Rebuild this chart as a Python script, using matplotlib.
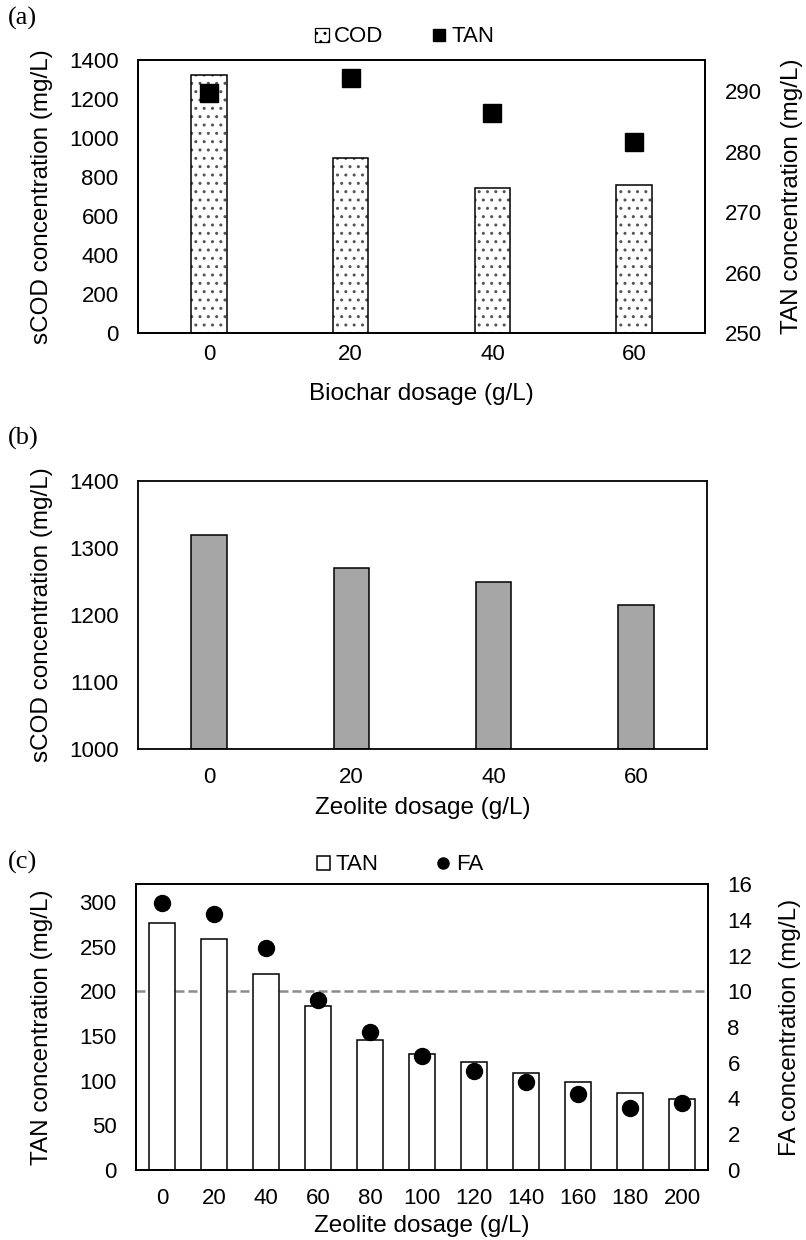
import matplotlib
matplotlib.use("Agg")
import matplotlib.pyplot as plt
from matplotlib.patches import Patch
from matplotlib.lines import Line2D

plt.rcParams['font.family'] = ['Liberation Sans', 'DejaVu Sans']

# ---------------- data ----------------
biochar_dose = ['0', '20', '40', '60']
cod_biochar = [1325, 898, 746, 761]           # sCOD (mg/L), bars
tan_biochar = [289.8, 292.2, 286.4, 281.7]    # TAN (mg/L), squares

zeolite_dose_b = ['0', '20', '40', '60']
cod_zeolite = [1320, 1270, 1250, 1215]        # sCOD (mg/L)

zeolite_dose_c = ['0', '20', '40', '60', '80', '100', '120', '140', '160', '180', '200']
tan_zeolite = [276, 258, 219, 183, 146, 130, 121, 108, 98, 86, 79.5]
fa_zeolite = [14.96, 14.33, 12.4, 9.5, 7.74, 6.4, 5.54, 4.94, 4.24, 3.45, 3.73]
tan_threshold = 200

# ---------------- layout helpers ----------------
W, H = 806, 1240
fig = plt.figure(figsize=(W / 100, H / 100), dpi=100)

def rect(l, r, t, b):
    return [l / W, 1 - b / H, (r - l) / W, (b - t) / H]

TICK = 16
LAB = 17.5
LW = 1.3
SERIF = ['Liberation Serif', 'DejaVu Serif']

def style(ax, xpad, ypad=14):
    for s in ax.spines.values():
        s.set_linewidth(LW)
        s.set_color('black')
    ax.tick_params(length=0, labelsize=TICK)
    ax.tick_params(axis='x', pad=xpad)
    ax.tick_params(axis='y', pad=ypad)

def set_xlabel_px(ax, text, l, r, t, b, ypx):
    ax.set_xlabel(text, fontsize=LAB)
    ax.xaxis.set_label_coords(0.5, (b - ypx) / (b - t))
    ax.xaxis.label.set_va('center')

def set_ylabel_px(ax, text, l, r, t, b, xpx):
    ax.set_ylabel(text, fontsize=LAB)
    ax.yaxis.set_label_coords((xpx - l) / (r - l), 0.5)
    ax.yaxis.label.set_va('center')

# ================= (a) =================
l, r, t, b = 138, 705, 60, 333
ax1 = fig.add_axes(rect(l, r, t, b))
x = range(len(biochar_dose))
ax1.bar(x, cod_biochar, width=0.25, color='white', edgecolor='#555555',
        hatch='..', linewidth=0, zorder=2)
ax1.bar(x, cod_biochar, width=0.25, fill=False, edgecolor='black',
        linewidth=1.1, zorder=3)
ax1.set_xlim(-0.5, len(biochar_dose) - 0.5)
ax1.set_ylim(0, 1400)
ax1.set_yticks(range(0, 1401, 200))
ax1.set_xticks(list(x))
ax1.set_xticklabels(biochar_dose)
style(ax1, xpad=8)
set_xlabel_px(ax1, 'Biochar dosage (g/L)', l, r, t, b, 394)
set_ylabel_px(ax1, 'sCOD concentration (mg/L)', l, r, t, b, 42)

ax1r = ax1.twinx()
ax1r.plot(list(x), tan_biochar, linestyle='none', marker='s', color='black',
          markersize=13)
ax1r.set_ylim(250, 295.2)
ax1r.set_yticks(range(250, 291, 10))
style(ax1r, xpad=8)
ax1r.set_ylabel('TAN concentration (mg/L)', fontsize=LAB)
ax1r.yaxis.set_label_coords((792 - l) / (r - l), 0.5)
ax1r.yaxis.label.set_va('center')

fig.text(8 / W, 1 - 18 / H, '(a)', family=SERIF, fontsize=19, ha='left', va='center')
fig.legend([Patch(facecolor='white', edgecolor='black', hatch='..', linewidth=0.9),
            Line2D([], [], marker='s', color='black', linestyle='none', markersize=9)],
           ['COD', 'TAN'], loc='center', bbox_to_anchor=(405 / W, 1 - 37 / H),
           ncol=2, frameon=False, fontsize=16, handlelength=0.6, handleheight=0.6,
           handletextpad=0.25, columnspacing=2.2, borderpad=0, borderaxespad=0)

# ================= (b) =================
l, r, t, b = 138, 707, 481, 749
ax2 = fig.add_axes(rect(l, r, t, b))
x = range(len(zeolite_dose_b))
ax2.bar(x, [v - 1000 for v in cod_zeolite], bottom=1000, width=0.25,
        color='#a6a6a6', edgecolor='black', linewidth=1.1, zorder=2)
ax2.set_xlim(-0.5, len(zeolite_dose_b) - 0.5)
ax2.set_ylim(1000, 1400)
ax2.set_yticks(range(1000, 1401, 100))
ax2.set_xticks(list(x))
ax2.set_xticklabels(zeolite_dose_b)
style(ax2, xpad=13)
set_xlabel_px(ax2, 'Zeolite dosage (g/L)', l, r, t, b, 808)
set_ylabel_px(ax2, 'sCOD concentration (mg/L)', l, r, t, b, 42)
fig.text(8 / W, 1 - 438 / H, '(b)', family=SERIF, fontsize=19, ha='left', va='center')

# ================= (c) =================
l, r, t, b = 136, 708, 884, 1170
ax3 = fig.add_axes(rect(l, r, t, b))
x = range(len(zeolite_dose_c))
ax3.bar(x, tan_zeolite, width=0.5, color='white', edgecolor='black',
        linewidth=1.1, zorder=2)
ax3.axhline(tan_threshold, color='#8c8c8c', linewidth=1.8, dashes=[3.6, 1.6], zorder=1)
ax3.set_xlim(-0.5, len(zeolite_dose_c) - 0.5)
ax3.set_ylim(0, 320)
ax3.set_yticks(range(0, 301, 50))
ax3.set_xticks(list(x))
ax3.set_xticklabels(zeolite_dose_c)
style(ax3, xpad=13)
set_xlabel_px(ax3, 'Zeolite dosage (g/L)', l, r, t, b, 1226)
set_ylabel_px(ax3, 'TAN concentration (mg/L)', l, r, t, b, 42)

ax3r = ax3.twinx()
ax3r.plot(list(x), fa_zeolite, linestyle='none', marker='o', color='black',
          markersize=11.5)
ax3r.set_ylim(0, 16)
ax3r.set_yticks(range(0, 17, 2))
style(ax3r, xpad=13)
ax3r.set_ylabel('FA concentration (mg/L)', fontsize=LAB)
ax3r.yaxis.set_label_coords((790 - l) / (r - l), 0.5)
ax3r.yaxis.label.set_va('center')

fig.text(8 / W, 1 - 862 / H, '(c)', family=SERIF, fontsize=19, ha='left', va='center')
fig.legend([Patch(facecolor='white', edgecolor='black', linewidth=1.1),
            Line2D([], [], marker='o', color='black', linestyle='none', markersize=8)],
           ['TAN', 'FA'], loc='center', bbox_to_anchor=(400 / W, 1 - 865 / H),
           ncol=2, frameon=False, fontsize=16, handlelength=0.6, handleheight=0.6,
           handletextpad=0.25, columnspacing=2.6, borderpad=0, borderaxespad=0)

fig.savefig('out.png', dpi=100)
